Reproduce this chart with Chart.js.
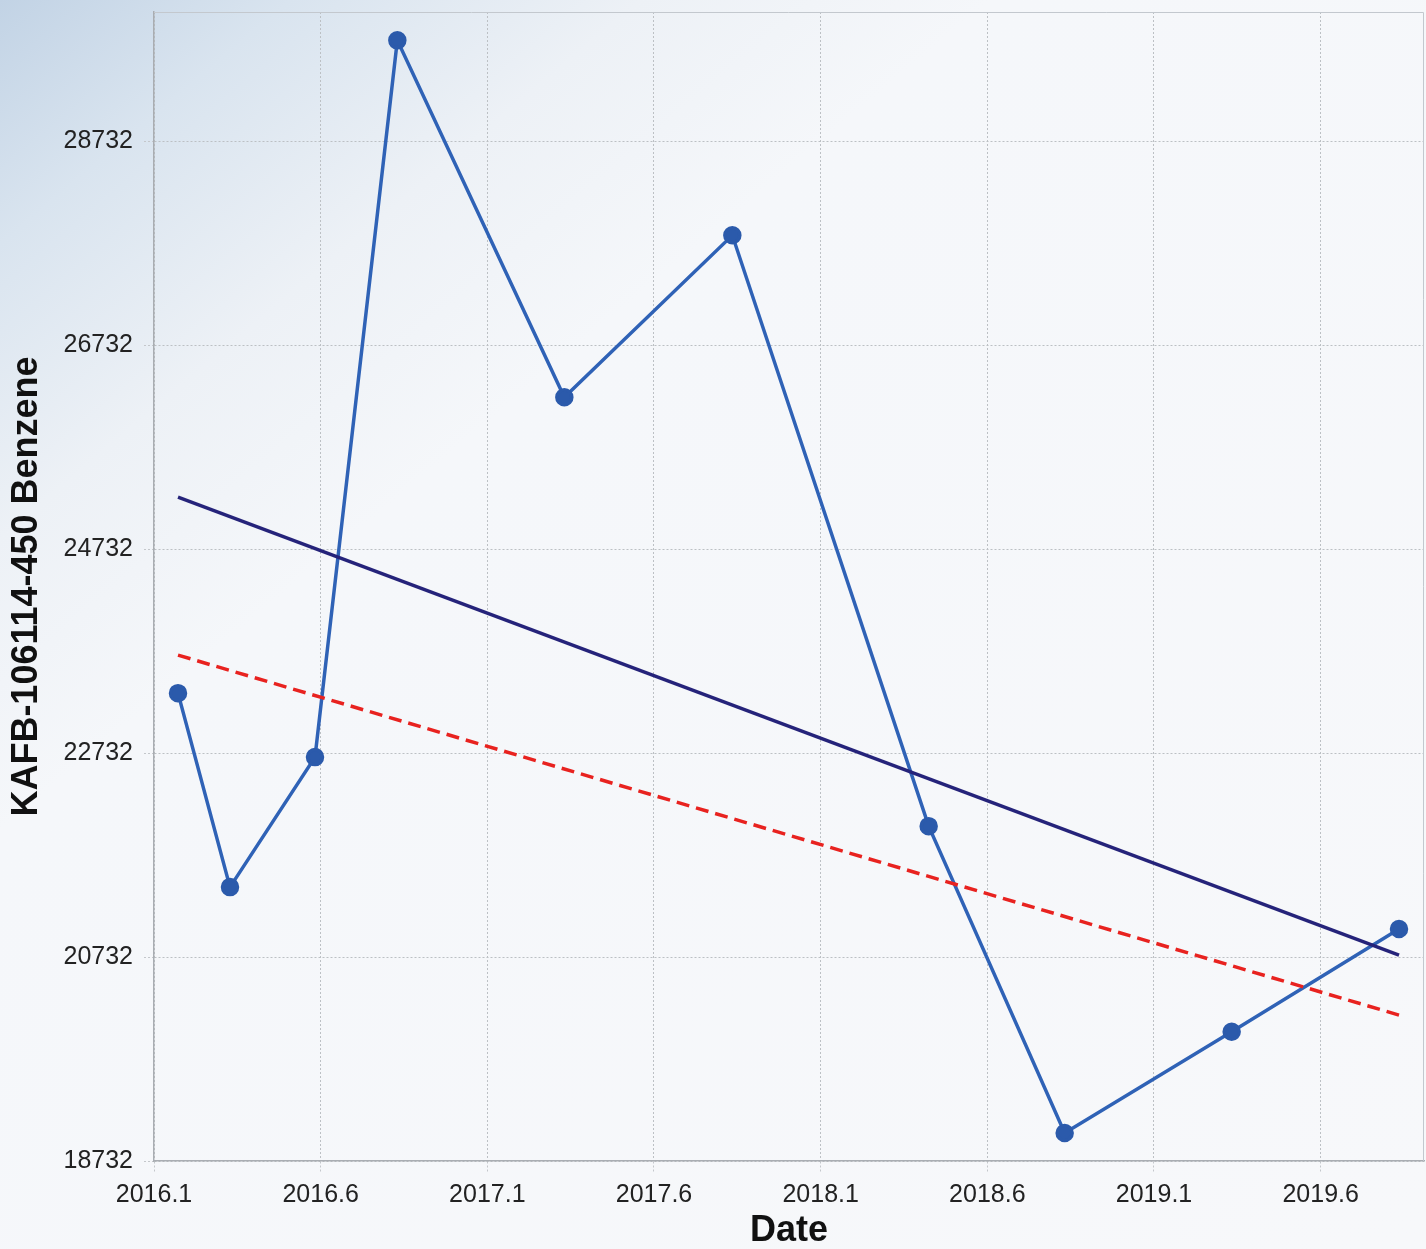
<!DOCTYPE html>
<html>
<head>
<meta charset="utf-8">
<script src="https://cdn.jsdelivr.net/npm/chart.js@4"></script>
<style>
  html, body { margin: 0; padding: 0; }
  body {
    width: 1426px; height: 1249px; overflow: hidden;
    background: linear-gradient(140deg, #c2d3e5 0%, #d9e4ef 10%, #edf1f6 22%, #f5f7fa 34%, #f7f8fa 100%);
  }
  #chart { display: block; }
</style>
</head>
<body>
<canvas id="chart" width="1426" height="1249"></canvas>
<script>
// sample dates (decimal years) and benzene values
const sampleDates = [2016.172, 2016.328, 2016.583, 2016.83, 2017.331, 2017.835, 2018.424, 2018.832, 2019.333, 2019.835];
const benzene = [23320, 21418, 22693, 29722, 26222, 27810, 22016, 19007, 20000, 21007];

// two trend lines, start and end
const trendDates = [2016.172, 2019.835];
const trendSolid = [25242, 20752];
const trendDashed = [23693, 20163];

// axis ticks
const xTicks = [2016.1, 2016.6, 2017.1, 2017.6, 2018.1, 2018.6, 2019.1, 2019.6];
const yTicks = [18732, 20732, 22732, 24732, 26732, 28732];

const toPoints = (xs, ys) => xs.map((x, i) => ({ x, y: ys[i] }));

// frame round the plot area (top and right edges)
const frame = {
  id: "frame",
  beforeDatasetsDraw(chart) {
    const { ctx, chartArea: a } = chart;
    ctx.save();
    ctx.strokeStyle = "#c3c8ce";
    ctx.lineWidth = 1;
    ctx.beginPath();
    ctx.moveTo(a.left, a.top + 0.5);
    ctx.lineTo(a.right - 0.5, a.top + 0.5);
    ctx.lineTo(a.right - 0.5, a.bottom);
    ctx.stroke();
    ctx.restore();
  },
};

const tickFont = { family: "Arial, 'Liberation Sans', sans-serif", size: 25 };
const titleFont = { family: "Arial, 'Liberation Sans', sans-serif", size: 36, weight: "bold", lineHeight: 1 };

new Chart(document.getElementById("chart"), {
  type: "scatter",
  data: {
    datasets: [
      {
        label: "trend",
        data: toPoints(trendDates, trendSolid),
        showLine: true,
        borderColor: "#25237a",
        borderWidth: 3.5,
        pointRadius: 0,
      },
      {
        label: "trend 2",
        data: toPoints(trendDates, trendDashed),
        showLine: true,
        borderColor: "#e8221f",
        borderWidth: 3.5,
        borderDash: [13, 7],
        pointRadius: 0,
      },
      {
        label: "Benzene",
        data: toPoints(sampleDates, benzene),
        showLine: true,
        borderColor: "#2f62b6",
        borderWidth: 3.5,
        pointRadius: 7.5,
        pointBackgroundColor: "#2b5aab",
        pointBorderColor: "#2b5aab",
      },
    ],
  },
  options: {
    responsive: false,
    animation: false,
    layout: { autoPadding: false, padding: { top: 12, right: 2, left: 0, bottom: 0 } },
    plugins: { legend: { display: false }, tooltip: { enabled: false } },
    scales: {
      x: {
        type: "linear",
        min: 2016.1,
        max: 2019.91,
        afterBuildTicks: (axis) => (axis.ticks = xTicks.map((v) => ({ value: v }))),
        afterFit: (axis) => {
          axis.height = 88;
          axis.paddingLeft = 0;
          axis.paddingRight = 0;
        },
        ticks: {
          font: tickFont,
          color: "#222",
          padding: 7,
          maxRotation: 0,
          callback: (v) => v.toFixed(1),
        },
        grid: {
          color: "#bcc0c4",
          tickLength: 12,
          tickColor: "#c4c7cb",
          tickBorderDash: [2, 2],
        },
        border: { color: "#a9adb2", width: 1.5, dash: [2, 2] },
        title: { display: true, text: "Date", font: titleFont, color: "#111", padding: { top: 0, bottom: 0 } },
      },
      y: {
        min: 18732,
        max: 30000,
        afterBuildTicks: (axis) => (axis.ticks = yTicks.map((v) => ({ value: v }))),
        afterFit: (axis) => {
          axis.width = 154;
          axis.paddingTop = 0;
          axis.paddingBottom = 0;
        },
        ticks: { font: tickFont, color: "#222", padding: 11, callback: (v) => String(v) },
        grid: {
          color: "#bcc0c4",
          tickLength: 10,
          tickColor: "#c4c7cb",
          tickBorderDash: [2, 2],
        },
        border: { color: "#a9adb2", width: 1.5, dash: [2, 2] },
        title: {
          display: true,
          text: "KAFB-106114-450 Benzene",
          font: titleFont,
          color: "#111",
          padding: { top: 9, bottom: 0 },
        },
      },
    },
  },
  plugins: [frame],
});
</script>
</body>
</html>
